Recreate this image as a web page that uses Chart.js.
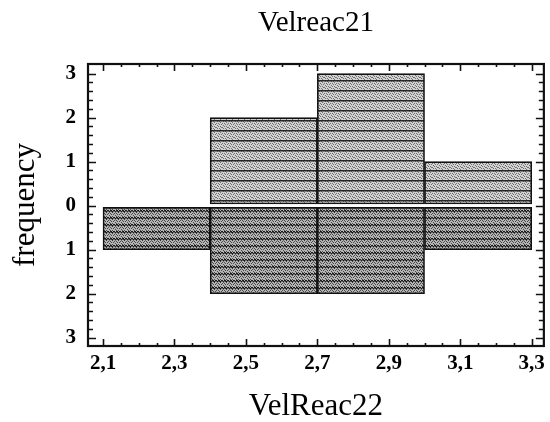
<!DOCTYPE html>
<html><head><meta charset="utf-8">
<script src="https://cdn.jsdelivr.net/npm/chart.js@4/dist/chart.umd.min.js"></script>
<style>html,body{margin:0;padding:0;background:#fff}#wrap{width:550px;height:422px}</style>
</head><body><div id="wrap"><canvas id="c" width="550" height="422"></canvas></div>
<script>
// ---- data ----
const binCenters = [2.25, 2.55, 2.85, 3.15];
const velreac21Counts = [0, 2, 3, 1];   // upper histogram
const velreac22Counts = [1, 2, 2, 1];   // lower (mirrored) histogram
const xTickValues = [2.1, 2.3, 2.5, 2.7, 2.9, 3.1, 3.3];
const xTickLabels = ['2,1', '2,3', '2,5', '2,7', '2,9', '3,1', '3,3'];
const yTickValues = [-3, -2, -1, 0, 1, 2, 3];
const yTickLabels = ['3', '2', '1', '0', '1', '2', '3'];
const topTitle = 'Velreac21';
const xTitle = 'VelReac22';
const yTitle = 'frequency';

// ---- textures ----
function makePattern(h, bg, dot, line, lineW, wavy) {
  const c = document.createElement('canvas');
  c.width = 6; c.height = h;
  const g = c.getContext('2d');
  g.fillStyle = bg; g.fillRect(0, 0, 6, h);
  g.fillStyle = dot;
  for (let i = 0; i < 6; i++) for (let j = 0; j < h; j++) {
    if ((i * 3 + j * 5) % 7 < 2) g.fillRect(i, j, 1, 1);
  }
  g.fillStyle = line;
  for (let i = 0; i < 6; i++) {
    const off = wavy ? ((i % 3 === 1) ? 1 : 0) : 0;
    g.fillRect(i, off, 1, lineW);
  }
  return g.createPattern(c, 'repeat');
}
const ctx0 = document.getElementById('c').getContext('2d');
const upperFill = makePattern(10, '#d2d2d2', '#707070', '#262626', 1.5, false);
const lowerFill = makePattern(7, '#b4b4b4', '#484848', '#1a1a1a', 1.5, true);

const serif = '"Liberation Serif", "Times New Roman", serif';

function subTicks(vals, n) {
  const out = [];
  for (let i = 0; i < vals.length - 1; i++) {
    for (let k = 1; k < n; k++) out.push(vals[i] + (vals[i + 1] - vals[i]) * k / n);
  }
  return out;
}

const frameTicks = {
  id: 'frameTicks',
  afterDatasetsDraw(chart) {
    const {ctx, chartArea: a, scales} = chart;
    const xs = scales.x, ys = scales.y;
    ctx.save();
    ctx.strokeStyle = '#111';
    ctx.lineWidth = 1.6;
    ctx.beginPath();
    const xMinor = subTicks(xTickValues, 4);
    const yMinor = subTicks(yTickValues, 5);
    const xt = (vals, len) => vals.forEach(v => {
      const px = Math.round(xs.getPixelForValue(v)) + 0.5;
      ctx.moveTo(px, a.bottom); ctx.lineTo(px, a.bottom - len);
      ctx.moveTo(px, a.top); ctx.lineTo(px, a.top + len);
    });
    const yt = (vals, len) => vals.forEach(v => {
      const py = Math.round(ys.getPixelForValue(v)) + 0.5;
      ctx.moveTo(a.left, py); ctx.lineTo(a.left + len, py);
      ctx.moveTo(a.right, py); ctx.lineTo(a.right - len, py);
    });
    xt(xTickValues, 7); xt(xMinor, 3);
    yt(yTickValues, 8); yt(yMinor, 5);
    ctx.stroke();
    ctx.lineWidth = 2.2;
    ctx.strokeRect(a.left, a.top, a.right - a.left, a.bottom - a.top);
    ctx.restore();
  }
};

const barCommon = {
  borderColor: '#111',
  borderWidth: 1.6,
  borderSkipped: false,
  barPercentage: 1,
  categoryPercentage: 1,
  grouped: false,
  xAxisID: 'xb'
};

new Chart(document.getElementById('c'), {
  type: 'bar',
  data: {
    datasets: [
      Object.assign({
        label: topTitle,
        data: binCenters.map((x, i) => ({x: x, y: velreac21Counts[i] || null})),
        backgroundColor: upperFill,
        base: 0.04
      }, barCommon),
      Object.assign({
        label: xTitle,
        data: binCenters.map((x, i) => ({x: x, y: velreac22Counts[i] ? -velreac22Counts[i] : null})),
        backgroundColor: lowerFill,
        base: -0.04
      }, barCommon)
    ]
  },
  options: {
    responsive: false,
    animation: false,
    layout: {padding: {left: 0, right: 5, top: 0, bottom: 0}},
    plugins: {
      legend: {display: false},
      tooltip: {enabled: false},
      title: {
        display: true, text: topTitle, fullSize: false,
        color: '#000',
        font: {family: serif, size: 29, weight: 'normal', lineHeight: 1.0},
        padding: {top: 9, bottom: 26}
      }
    },
    scales: {
      xb: {
        type: 'linear', display: false, offset: false, min: 2.058, max: 3.334,
        grid: {offset: false},
        afterBuildTicks: s => { s.ticks = binCenters.map(v => ({value: v})); }
      },
      x: {
        type: 'linear', position: 'bottom', offset: false, min: 2.058, max: 3.334,
        grid: {display: false, drawTicks: false, offset: false},
        border: {display: false},
        afterBuildTicks: s => { s.ticks = xTickValues.map(v => ({value: v})); },
        ticks: {
          autoSkip: false, maxRotation: 0, padding: 5, color: '#000',
          font: {family: serif, size: 21, weight: 'bold'},
          callback: (v) => { const i = xTickValues.findIndex(t => Math.abs(t - v) < 1e-9); return i >= 0 ? xTickLabels[i] : ''; }
        },
        title: {
          display: true, text: xTitle, color: '#000',
          font: {family: serif, size: 31, lineHeight: 1.0},
          padding: {top: 0, bottom: 0}
        },
        afterFit: s => { s.height = 76; }
      },
      y: {
        type: 'linear', offset: false, min: -3.19, max: 3.22,
        grid: {display: false, drawTicks: false},
        border: {display: false},
        afterBuildTicks: s => { s.ticks = yTickValues.map(v => ({value: v})); },
        ticks: {
          autoSkip: false, padding: 12, color: '#000',
          font: {family: serif, size: 21, weight: 'bold'},
          callback: (v) => { const i = yTickValues.findIndex(t => Math.abs(t - v) < 1e-9); return i >= 0 ? yTickLabels[i] : ''; }
        },
        title: {
          display: true, text: yTitle, color: '#000',
          font: {family: serif, size: 31, lineHeight: 1.0},
          padding: {top: 10, bottom: 0}
        },
        afterFit: s => { s.width = 88; }
      }
    }
  },
  plugins: [frameTicks]
});
</script>
</body></html>
